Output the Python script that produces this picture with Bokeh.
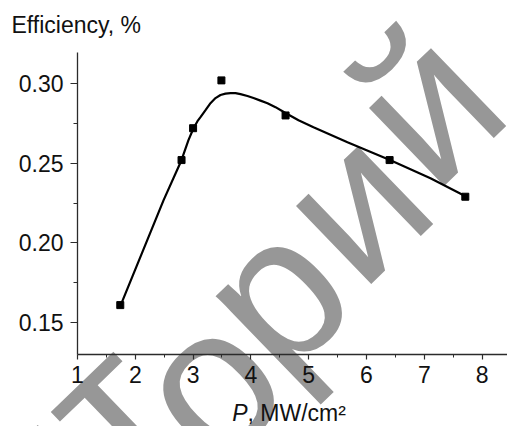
from bokeh.plotting import figure
from bokeh.models import Range1d, FixedTicker, Label, PrintfTickFormatter
from bokeh.embed import file_html
from bokeh.resources import INLINE

# ---- data ----
point_p = [1.74, 2.80, 3.00, 3.49, 4.60, 6.40, 7.71]
point_eff = [0.161, 0.252, 0.272, 0.302, 0.280, 0.252, 0.229]

curve_p = [1.744, 2.488, 2.799, 2.920, 3.007, 3.076, 3.128, 3.215, 3.301, 3.388,
           3.474, 3.561, 3.647, 3.734, 3.820, 3.941, 4.045, 4.166, 4.287, 4.426,
           4.599, 4.824, 5.083, 5.671, 6.415, 7.107, 7.713]
curve_eff = [0.1607, 0.2267, 0.2519, 0.2645, 0.2720, 0.2764, 0.2789, 0.2833, 0.2877, 0.2909,
             0.2928, 0.2937, 0.2940, 0.2940, 0.2934, 0.2922, 0.2909, 0.2893, 0.2877, 0.2852,
             0.2815, 0.2770, 0.2726, 0.2632, 0.2519, 0.2406, 0.2293]

x_ticks = [1, 2, 3, 4, 5, 6, 7, 8]
x_minor = [1.5, 2.5, 3.5, 4.5, 5.5, 6.5, 7.5]
y_ticks = [0.15, 0.20, 0.25, 0.30]
y_minor = [0.175, 0.225, 0.275]
x_axis_span = (1.0, 8.44)
y_axis_span = (0.13, 0.3195)

y_title = "Efficiency, %"
x_title_sym = "P"
x_title_unit = ", MW/cm\u00b2"
watermark_head = "\u0420\u0435\u043f\u043e\u0437\u0438"          # Репози
watermark_tail = ["\u0442", "\u043e", "\u0440", "\u0438", "\u0439"]  # т о р и й

# ---- layout: the frame fills the canvas, axes sit at fixed locations ----
W, H = 507, 426
AX_LEFT_PX, AX_BOTTOM_PX, AX_TOP_PX = 77, 354, 52
x_per_px = (x_axis_span[1] - x_axis_span[0]) / (W - AX_LEFT_PX)
y_per_px = (y_axis_span[1] - y_axis_span[0]) / (AX_BOTTOM_PX - AX_TOP_PX)
x0 = x_axis_span[0] - AX_LEFT_PX * x_per_px
x1 = x_axis_span[1]
y0 = y_axis_span[0] - (H - AX_BOTTOM_PX) * y_per_px
y1 = y_axis_span[1] + AX_TOP_PX * y_per_px


def px(sx, sy):
    return x0 + sx * x_per_px, y1 - sy * y_per_px


FONT = "Liberation Sans"
AX = "#2b2b2b"
TXT = "#111111"
WM = "#979797"

p = figure(width=W, height=H, output_backend="svg", toolbar_location=None,
           x_range=Range1d(x0, x1), y_range=Range1d(y0, y1),
           min_border=0)
p.outline_line_color = None
p.grid.visible = False
p.background_fill_color = "white"
p.border_fill_color = "white"

# watermark (beneath everything), letter by letter
WM_ANGLE = 0.768
WM_SIZE = "205px"
wm_anchor_px = [(107, 408), (206, 382), (272, 292), (352, 202), (425, 104)]
for ch, (cx, cy) in zip(watermark_tail, wm_anchor_px):
    lx, ly = px(cx, cy)
    p.add_layout(Label(x=lx, y=ly, text=ch, text_align="center", text_baseline="alphabetic",
                       angle=WM_ANGLE, text_font=FONT, text_font_size=WM_SIZE,
                       text_color=WM, level="underlay"))
hx, hy = px(73, 441)
p.add_layout(Label(x=hx, y=hy, text=watermark_head, text_align="right", text_baseline="alphabetic",
                   angle=WM_ANGLE, text_font=FONT, text_font_size=WM_SIZE,
                   text_color=WM, level="underlay"))

# axes
p.xaxis.fixed_location = y_axis_span[0]
p.yaxis.fixed_location = x_axis_span[0]
p.xaxis.bounds = x_axis_span
p.yaxis.bounds = y_axis_span
p.xaxis.ticker = FixedTicker(ticks=x_ticks, minor_ticks=x_minor)
p.yaxis.ticker = FixedTicker(ticks=y_ticks, minor_ticks=y_minor)
p.xaxis.formatter = PrintfTickFormatter(format="%d")
p.yaxis.formatter = PrintfTickFormatter(format="%.2f")
for ax in (p.xaxis[0], p.yaxis[0]):
    ax.axis_line_color = AX
    ax.axis_line_width = 1.3
    ax.major_tick_line_color = AX
    ax.minor_tick_line_color = AX
    ax.major_tick_line_width = 1.2
    ax.minor_tick_line_width = 1.0
    ax.major_tick_in = 0
    ax.minor_tick_in = 0
    ax.major_label_text_font = FONT
    ax.major_label_text_font_size = "23px"
    ax.major_label_text_color = TXT
p.xaxis.major_tick_out = 5
p.xaxis.minor_tick_out = 3
p.yaxis.major_tick_out = 7
p.yaxis.minor_tick_out = 4
p.xaxis.major_label_standoff = 6
p.yaxis.major_label_standoff = 7

# data
p.line(curve_p, curve_eff, line_color="black", line_width=2.2)
p.scatter(point_p, point_eff, marker="square", size=7, fill_color="black", line_color="black")

# titles
tx, ty = px(11, 24)
p.add_layout(Label(x=tx, y=ty, text=y_title, text_align="left", text_baseline="alphabetic",
                   text_font=FONT, text_font_size="23px", text_color=TXT))
sx, sy = px(247, 412)
p.add_layout(Label(x=sx, y=sy, text=x_title_sym, text_align="right", text_baseline="alphabetic",
                   text_font=FONT, text_font_style="italic", text_font_size="23px", text_color=TXT))
p.add_layout(Label(x=sx, y=sy, text=x_title_unit, text_align="left", text_baseline="alphabetic",
                   text_font=FONT, text_font_size="23px", text_color=TXT))

open("out.html", "w").write(file_html(p, INLINE))
